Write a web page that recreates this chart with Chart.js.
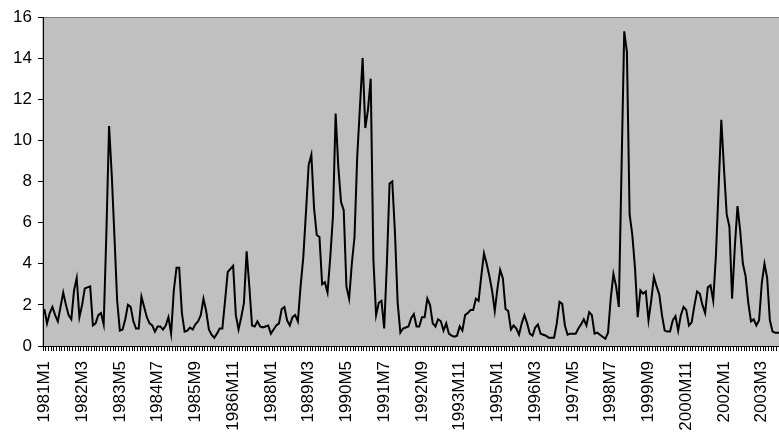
<!DOCTYPE html>
<html>
<head>
<meta charset="utf-8">
<script src="https://cdn.jsdelivr.net/npm/chart.js@4.4.0/dist/chart.umd.min.js"></script>
<style>
  html, body { margin: 0; padding: 0; background: #fff; overflow: hidden; }
  #wrap { width: 782px; height: 434px; }
</style>
</head>
<body>
<div id="wrap"><canvas id="canvas" width="782" height="434"></canvas></div>
<script>
// monthly values, one row per year (1981M1 .. 2003M10)
const y1981 = [1.8, 1.1, 1.6, 1.9, 1.5, 1.2, 1.9, 2.6, 2.0, 1.5, 1.3, 2.7];
const y1982 = [3.3, 1.4, 2.0, 2.8, 2.85, 2.9, 1.0, 1.1, 1.5, 1.6, 1.05, 5.5];
const y1983 = [10.7, 8.3, 5.3, 2.2, 0.75, 0.8, 1.3, 2.0, 1.9, 1.2, 0.85, 0.85];
const y1984 = [2.4, 1.9, 1.4, 1.1, 1.0, 0.7, 0.95, 0.95, 0.8, 1.0, 1.4, 0.6];
const y1985 = [2.7, 3.8, 3.8, 1.6, 0.7, 0.75, 0.9, 0.8, 1.05, 1.2, 1.5, 2.3];
const y1986 = [1.7, 0.8, 0.55, 0.4, 0.6, 0.85, 0.85, 2.2, 3.6, 3.75, 3.9, 1.5];
const y1987 = [0.8, 1.4, 2.1, 4.6, 2.9, 1.0, 0.95, 1.2, 0.95, 0.9, 0.95, 1.0];
const y1988 = [0.6, 0.8, 1.0, 1.1, 1.8, 1.9, 1.25, 1.0, 1.4, 1.5, 1.2, 2.9];
const y1989 = [4.3, 6.5, 8.8, 9.3, 6.7, 5.4, 5.3, 3.0, 3.1, 2.6, 4.3, 6.3];
const y1990 = [11.3, 8.7, 7.0, 6.6, 2.9, 2.3, 4.0, 5.3, 9.2, 11.6, 14.0, 10.6];
const y1991 = [11.5, 13.0, 4.2, 1.5, 2.1, 2.2, 0.85, 4.0, 7.9, 8.0, 5.5, 2.1];
const y1992 = [0.65, 0.85, 0.9, 0.95, 1.35, 1.55, 0.95, 0.95, 1.4, 1.4, 2.3, 2.0];
const y1993 = [1.1, 0.95, 1.3, 1.2, 0.75, 1.1, 0.6, 0.5, 0.45, 0.5, 0.95, 0.75];
const y1994 = [1.5, 1.6, 1.75, 1.75, 2.3, 2.2, 3.4, 4.5, 4.0, 3.4, 2.7, 1.7];
const y1995 = [2.8, 3.7, 3.3, 1.8, 1.7, 0.8, 1.0, 0.85, 0.55, 1.1, 1.5, 1.1];
const y1996 = [0.6, 0.5, 0.9, 1.05, 0.6, 0.55, 0.5, 0.4, 0.4, 0.4, 1.1, 2.15];
const y1997 = [2.05, 1.0, 0.55, 0.6, 0.6, 0.6, 0.85, 1.05, 1.3, 1.0, 1.65, 1.5];
const y1998 = [0.6, 0.65, 0.55, 0.45, 0.35, 0.65, 2.3, 3.5, 2.9, 1.9, 8.6, 15.3];
const y1999 = [14.3, 6.4, 5.4, 3.8, 1.4, 2.7, 2.55, 2.65, 1.25, 2.2, 3.35, 2.9];
const y2000 = [2.5, 1.5, 0.75, 0.7, 0.7, 1.25, 1.45, 0.75, 1.5, 1.9, 1.75, 1.0];
const y2001 = [1.15, 1.95, 2.65, 2.55, 2.0, 1.6, 2.85, 2.95, 2.2, 4.4, 7.7, 11.0];
const y2002 = [8.6, 6.4, 5.8, 2.3, 4.8, 6.8, 5.6, 4.0, 3.4, 2.1, 1.2, 1.3];
const y2003 = [1.0, 1.25, 3.05, 4.0, 3.3, 1.25, 0.7, 0.65, 0.65, 0.65];

const years = [y1981, y1982, y1983, y1984, y1985, y1986, y1987, y1988, y1989, y1990, y1991, y1992,
  y1993, y1994, y1995, y1996, y1997, y1998, y1999, y2000, y2001, y2002, y2003];
const firstYear = 1981;
const labelEvery = 14;
const yTicks = [0, 2, 4, 6, 8, 10, 12, 14, 16];

const values = [];
const labels = [];
years.forEach((row, k) => {
  row.forEach((v, m) => {
    values.push(v);
    labels.push(`${firstYear + k}M${m + 1}`);
  });
});

const font = { family: "'Liberation Sans', Arial, sans-serif", size: 17 };

// grey plot area with a thin border, like the spreadsheet chart
const plotArea = {
  id: 'plotArea',
  beforeDraw(chart) {
    const { ctx, chartArea: a } = chart;
    ctx.save();
    ctx.fillStyle = '#c0c0c0';
    ctx.fillRect(a.left, a.top, a.right - a.left, a.bottom - a.top);
    ctx.strokeStyle = '#808080';
    ctx.lineWidth = 1;
    ctx.strokeRect(a.left, a.top + 0.5, a.right - a.left + 2, a.bottom - a.top);
    ctx.restore();
  }
};

const config = {
  type: 'line',
  data: {
    labels: labels,
    datasets: [{
      data: values,
      borderColor: '#000',
      borderWidth: 2,
      pointRadius: 0,
      tension: 0,
      fill: false,
    }],
  },
  options: {
    responsive: false,
    animation: false,
    layout: { padding: { top: 17, left: 0, right: 0, bottom: 0 } },
    plugins: { legend: { display: false }, tooltip: { enabled: false } },
    scales: {
      x: {
        type: 'category',
        offset: true,
        grid: { display: true, drawOnChartArea: false, drawTicks: true, tickLength: 5, color: '#000', offset: true },
        border: { display: true, color: '#000', width: 1 },
        ticks: {
          autoSkip: false,
          minRotation: 90,
          maxRotation: 90,
          padding: 10,
          color: '#000',
          font: font,
          callback: (v, i) => (i % labelEvery === 0 ? labels[i] : ''),
        },
        afterFit: (s) => {
          s.height = 88;
          s.paddingLeft = 0;
          s.paddingRight = 0;
        },
      },
      y: {
        min: yTicks[0],
        max: yTicks[yTicks.length - 1],
        grid: { display: true, drawOnChartArea: false, drawTicks: true, tickLength: 5, color: '#000' },
        border: { display: true, color: '#000', width: 1 },
        ticks: { stepSize: 2, padding: 6, color: '#000', font: font },
        afterFit: (s) => { s.width = 43; },
      },
    },
  },
  plugins: [plotArea],
};

const ctx = document.getElementById('canvas').getContext('2d');
window.myLine = new Chart(ctx, config);
</script>
</body>
</html>
